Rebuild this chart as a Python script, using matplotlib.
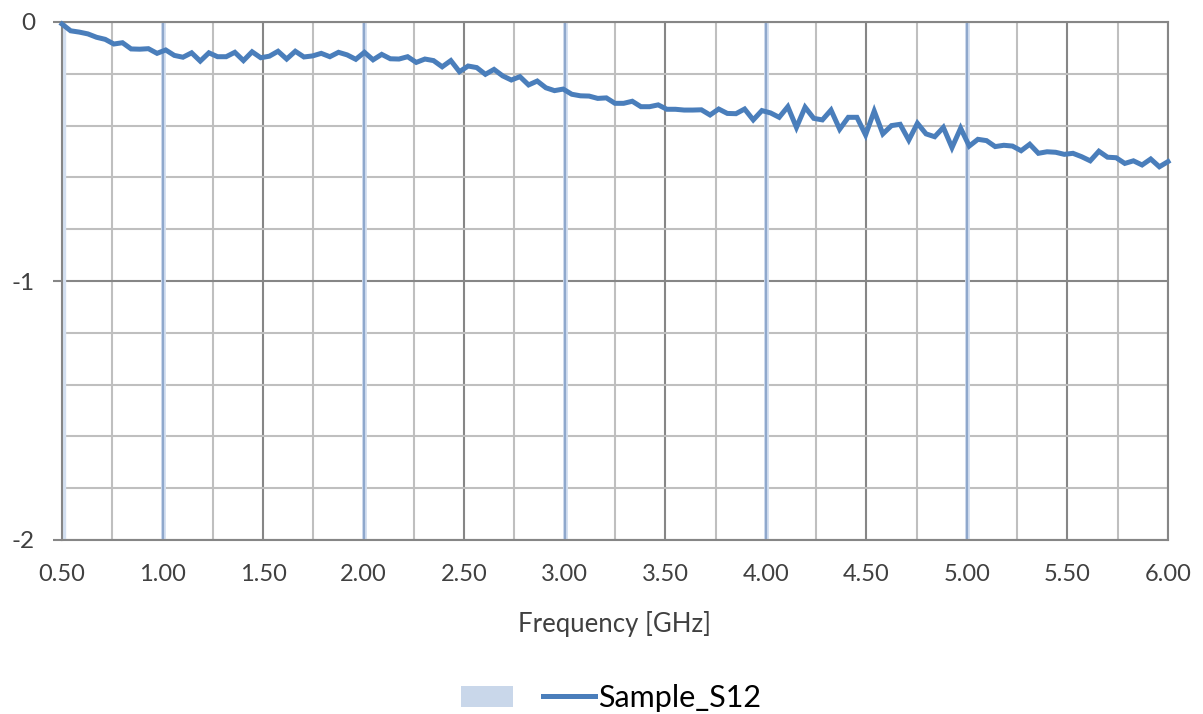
import numpy as np
import matplotlib
matplotlib.use("Agg")
import matplotlib.pyplot as plt
from matplotlib.lines import Line2D
from matplotlib.patches import Patch
from matplotlib.ticker import MultipleLocator, FixedLocator, FixedFormatter

# --- Dados (S12 em dB, varredura 0.5 a 6.0 GHz) ---
FREQ_INICIO_GHZ = 0.5
FREQ_FIM_GHZ = 6.0
s12_db = [
    -0.008, -0.034, -0.039, -0.046, -0.059, -0.067, -0.085, -0.080, -0.104, -0.105,
    -0.103, -0.121, -0.108, -0.129, -0.136, -0.119, -0.151, -0.119, -0.134, -0.134,
    -0.117, -0.149, -0.115, -0.138, -0.132, -0.113, -0.143, -0.113, -0.135, -0.131,
    -0.121, -0.134, -0.117, -0.127, -0.144, -0.117, -0.146, -0.125, -0.142, -0.143,
    -0.134, -0.156, -0.143, -0.149, -0.173, -0.149, -0.192, -0.170, -0.176, -0.202,
    -0.183, -0.208, -0.224, -0.211, -0.243, -0.228, -0.254, -0.265, -0.259, -0.279,
    -0.285, -0.286, -0.295, -0.293, -0.314, -0.314, -0.306, -0.327, -0.327, -0.320,
    -0.337, -0.337, -0.340, -0.340, -0.339, -0.359, -0.336, -0.353, -0.354, -0.336,
    -0.378, -0.342, -0.351, -0.368, -0.327, -0.407, -0.329, -0.372, -0.378, -0.340,
    -0.414, -0.368, -0.368, -0.436, -0.344, -0.432, -0.400, -0.395, -0.456, -0.391,
    -0.432, -0.443, -0.407, -0.485, -0.410, -0.479, -0.453, -0.458, -0.481, -0.476,
    -0.479, -0.497, -0.472, -0.507, -0.501, -0.503, -0.511, -0.507, -0.520, -0.536,
    -0.499, -0.522, -0.524, -0.546, -0.536, -0.552, -0.529, -0.559, -0.539,
]
freq_ghz = np.linspace(FREQ_INICIO_GHZ, FREQ_FIM_GHZ, len(s12_db))

x_ticks = [0.5, 1.0, 1.5, 2.0, 2.5, 3.0, 3.5, 4.0, 4.5, 5.0, 5.5, 6.0]
x_tick_labels = ["0.50", "1.00", "1.50", "2.00", "2.50", "3.00",
                 "3.50", "4.00", "4.50", "5.00", "5.50", "6.00"]
y_ticks = [-2, -1, 0]
y_tick_labels = ["-2", "-1", "0"]
marcadores_ghz = [1.0, 2.0, 3.0, 4.0, 5.0]

COR_LINHA = "#4a7ebb"
COR_GRADE_FORTE = "#868686"
COR_GRADE_FRACA = "#bfbfbf"
COR_MARCADOR = "#8fa8cc"
COR_TEXTO = "#404040"

plt.rcParams["font.family"] = ["Lato", "DejaVu Sans"]

fig = plt.figure(figsize=(12.03, 7.14), dpi=100)
ax = fig.add_axes([62 / 1203, 1 - 540 / 714, (1168 - 62) / 1203, (540 - 22) / 714])

ax.set_xlim(FREQ_INICIO_GHZ, FREQ_FIM_GHZ)
ax.set_ylim(-2, 0)

# grade: menor (0.25 GHz / 0.2) clara, maior (0.5 GHz / 1) escura
ax.xaxis.set_minor_locator(MultipleLocator(0.25))
ax.yaxis.set_minor_locator(MultipleLocator(0.2))
ax.xaxis.set_major_locator(FixedLocator(x_ticks))
ax.xaxis.set_major_formatter(FixedFormatter(x_tick_labels))
ax.yaxis.set_major_locator(FixedLocator(y_ticks))
ax.yaxis.set_major_formatter(FixedFormatter(y_tick_labels))

ax.grid(which="minor", color=COR_GRADE_FRACA, linewidth=1.5, zorder=0)
ax.grid(which="major", color=COR_GRADE_FORTE, linewidth=1.5, zorder=0)
ax.set_axisbelow(True)

for xv in marcadores_ghz:
    ax.axvline(xv, color="#d3dff0", linewidth=3.5, zorder=1)
    ax.axvline(xv, color=COR_MARCADOR, linewidth=1.6, zorder=1)
ax.axvline(FREQ_INICIO_GHZ, color="#d3dff0", linewidth=6, zorder=1)

for lado in ["top", "bottom", "left", "right"]:
    ax.spines[lado].set_color(COR_GRADE_FORTE)
    ax.spines[lado].set_linewidth(1.5)

ax.plot(freq_ghz, s12_db, color=COR_LINHA, linewidth=3.6, zorder=3,
        solid_joinstyle="miter", clip_on=False)

ax.tick_params(axis="x", which="both", length=0, pad=17, labelsize=17, labelcolor=COR_TEXTO)
ax.tick_params(axis="y", which="major", length=6.5, width=1.5, color=COR_GRADE_FORTE,
               pad=13, labelsize=17.5, labelcolor=COR_TEXTO)
ax.tick_params(axis="y", which="minor", length=0)

ax.set_xlabel("Frequency [GHz]", fontsize=18.5, color=COR_TEXTO, labelpad=19)

handles = [
    Patch(facecolor="#c9d7ea", edgecolor="none", label=""),
    Line2D([0], [0], color=COR_LINHA, linewidth=3.6, label="Sample_S12"),
]
fig.legend(handles=handles, loc="center", bbox_to_anchor=(611 / 1203, 1 - 698 / 714),
           ncol=2, frameon=False, fontsize=22, handlelength=1.7, handletextpad=0.1,
           columnspacing=0.9, borderaxespad=0)

fig.savefig("out.png", dpi=100)
